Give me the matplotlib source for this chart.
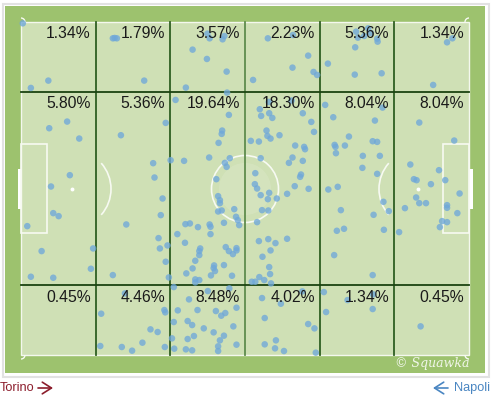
import numpy as np
import matplotlib.pyplot as plt
from matplotlib.patches import Rectangle, Ellipse, Arc

# Zone labels (6 columns x 3 rows), left to right
top_labels = ['1.34%', '1.79%', '3.57%', '2.23%', '5.36%', '1.34%']
mid_labels = ['5.80%', '5.36%', '19.64%', '18.30%', '8.04%', '8.04%']
bot_labels = ['0.45%', '4.46%', '8.48%', '4.02%', '1.34%', '0.45%']

# Event locations, pitch coordinates 0-100 (x: left->right, y: top->bottom)
top_x = [0.4, 2.2, 6.1,
         20.5, 21.4, 20.9, 27.5,
         41.6, 42.1, 45.0, 45.4, 38.3, 41.5, 45.9, 36.8,
         55.1, 60.7, 64.1, 60.6, 65.3, 66.1, 51.8,
         74.8, 75.2, 77.5, 79.5, 79.6, 74.6, 68.5, 74.5, 80.5, 76.6, 78.1,
         95.1, 96.3, 92.0]
top_y = [0.4, 19.8, 17.6,
         4.9, 4.9, 4.8, 17.6,
         3.5, 4.9, 5.2, 4.2, 8.3, 11.1, 14.9, 19.7,
         4.9, 3.9, 10.1, 13.7, 15.0, 15.9, 17.4,
         2.9, 4.7, 1.9, 5.0, 5.9, 7.6, 12.5, 15.8, 15.4, 4.2, 3.3,
         6.1, 4.9, 18.9]

mid_x = [10.3, 6.3, 13.0, 10.9, 6.7, 7.2, 8.4, 1.4, 4.6, 16.1, 15.6, 2.2, 7.2,
         32.3, 22.3, 29.5, 29.8, 33.4, 31.6, 31.2, 23.5, 30.7, 31.0, 32.7, 32.3, 33.0, 20.5,
         34.5, 46.0, 46.4, 44.9, 44.8, 44.1, 42.0, 36.4, 46.6, 45.5, 45.9, 43.6,
         44.0, 44.4, 44.4, 44.0, 44.8, 47.6, 48.0, 48.4, 48.7, 45.3, 42.1, 42.3,
         39.5, 37.7, 36.7, 34.9, 42.3, 36.6, 40.0, 39.8, 39.8, 45.7, 46.4, 47.3,
         48.1, 48.1, 38.9, 38.3, 36.9, 43.1, 43.0, 45.3, 47.1, 42.4, 43.3, 38.9,
         39.8, 38.9,
         55.3, 53.3, 53.6, 55.4, 56.1, 60.4, 62.9, 64.8, 65.4, 54.8, 55.0, 55.7,
         57.7, 51.3, 53.1, 61.2, 63.2, 63.4, 60.6, 59.8, 62.9, 53.5, 62.5, 62.3,
         61.1, 64.2, 52.3, 52.2, 52.7, 53.5, 55.4, 55.1, 57.1, 59.4, 53.8, 55.2,
         52.7, 53.1, 55.2, 56.8, 59.4, 55.7, 53.9, 55.4, 55.6, 53.2, 51.5, 52.3,
         54.3, 55.8,
         67.9, 80.7, 69.7, 79.0, 73.2, 70.0, 70.2, 72.3, 78.5, 79.5, 70.3, 76.3,
         80.1, 76.2, 79.5, 70.7, 68.6, 71.4, 78.7, 80.9, 82.1, 70.5, 72.1, 81.0,
         69.9, 78.5,
         88.9, 96.7, 86.9, 93.3, 87.7, 88.3, 91.5, 94.7, 97.9, 84.4, 85.7, 88.2,
         88.9, 90.4, 95.1, 95.1, 97.4, 94.0, 95.1, 93.5]
mid_y = [29.9, 31.9, 35.0, 46.0, 49.4, 57.4, 58.3, 61.3, 68.8, 68.0, 74.1, 76.5, 76.8,
         30.3, 34.0, 42.4, 46.7, 41.5, 53.0, 58.0, 60.8, 64.9, 68.0, 67.1, 72.0, 76.7, 76.0,
         23.4, 21.2, 27.9, 32.6, 33.6, 36.3, 40.7, 41.7, 40.9, 42.3, 43.5, 47.2,
         52.3, 53.5, 54.4, 56.9, 56.6, 56.2, 58.5, 59.5, 61.0, 60.3, 60.8, 61.5,
         61.6, 60.5, 60.7, 63.7, 63.7, 66.3, 68.0, 68.8, 70.0, 67.6, 68.8, 69.7,
         67.9, 68.6, 71.7, 74.0, 75.5, 73.1, 73.9, 73.0, 76.2, 76.1, 74.8, 77.3,
         77.5, 78.2,
         24.0, 26.2, 28.2, 27.4, 28.8, 23.6, 27.4, 30.0, 33.0, 32.6, 34.2, 35.0,
         34.0, 35.7, 35.9, 37.1, 37.5, 38.2, 40.7, 42.3, 41.7, 40.9, 45.8, 46.5,
         49.3, 50.1, 45.4, 48.7, 50.0, 52.0, 51.3, 53.2, 53.0, 51.6, 56.5, 56.6,
         60.1, 65.8, 65.2, 66.4, 65.1, 68.6, 70.5, 73.6, 75.7, 76.6, 78.0, 78.0,
         77.5, 78.5,
         24.9, 25.7, 28.6, 29.6, 34.4, 36.9, 37.5, 37.1, 35.8, 36.0, 39.4, 40.2,
         40.2, 43.8, 45.6, 49.5, 50.3, 56.5, 57.9, 54.0, 56.8, 62.7, 62.1, 62.4,
         70.0, 76.0,
         30.2, 35.6, 42.8, 44.5, 47.2, 47.5, 48.7, 47.5, 51.5, 63.1, 55.9, 52.7,
         54.4, 54.4, 55.0, 55.8, 57.4, 59.8, 60.1, 61.6]

bot_x = [23.2, 17.9, 32.0, 32.2, 28.9, 30.5, 27.1, 24.8, 22.5, 17.7, 32.1,
         34.1, 37.5, 41.7, 48.1, 35.0, 39.4, 43.5, 44.7, 45.6, 34.1, 37.2, 38.2,
         40.8, 43.0, 47.4, 33.7, 37.2, 38.6, 44.4, 45.3, 44.0, 44.0, 34.2, 36.8,
         38.2, 48.1, 46.5,
         53.8, 58.0, 62.8, 54.4, 64.1, 65.5, 56.9, 54.4, 56.7, 58.7, 65.8,
         67.6, 72.9, 68.1, 78.5, 78.6,
         89.2]
bot_y = [81.5, 87.6, 86.5, 87.2, 92.3, 93.1, 96.3, 98.7, 97.6, 97.3, 97.6,
         79.6, 83.3, 80.8, 85.8, 86.6, 86.5, 86.8, 88.2, 87.4, 90.1, 89.8, 91.0,
         92.0, 93.2, 91.4, 95.0, 95.2, 94.3, 95.6, 94.2, 97.4, 98.8, 98.1, 98.3,
         98.6, 96.9, 80.0,
         82.9, 84.6, 80.9, 88.9, 90.7, 92.0, 95.6, 96.8, 98.0, 98.8, 99.3,
         81.1, 83.5, 87.1, 86.2, 81.8,
         91.4]

# pixel layout of the pitch inside the 493x397 image
W, H = 493, 397
PX0, PY0, PW, PH = 21, 22, 448, 333


def cx(px):
    return (px - PX0) * 100 / PW


def cy(py):
    return (py - PY0) * 100 / PH


fig = plt.figure(figsize=(W / 100, H / 100), dpi=100)
ax = fig.add_axes([0, 0, 1, 1])
ax.set_xlim(cx(0), cx(W))
ax.set_ylim(cy(H), cy(0))
ax.axis('off')
plt.rcParams['font.family'] = ['Liberation Sans', 'DejaVu Sans']

# card frame + outer grass
ax.add_patch(Rectangle((cx(3), cy(4)), cx(489) - cx(3), cy(377) - cy(4),
                       facecolor='white', edgecolor='#e2e2e2', lw=1.5))
ax.add_patch(Rectangle((cx(5), cy(6)), cx(485) - cx(5), cy(373) - cy(6),
                       facecolor='#9dc26e', edgecolor='none'))
ax.add_patch(Rectangle((0, 0), 100, 100, facecolor='#cfe0b5',
                       edgecolor='#f4f8ee', lw=1))

lc = '#f7faf2'
# goals
gh = cy(209) - cy(169)
ax.add_patch(Rectangle((cx(17.5), cy(169)), cx(21) - cx(17.5), gh, facecolor='white', edgecolor='none'))
ax.add_patch(Rectangle((100, cy(169)), cx(472.5) - 100, gh, facecolor='white', edgecolor='none'))
# six-yard boxes
bw = cx(47) - cx(21)
bh = cy(233) - cy(144)
ax.add_patch(Rectangle((0, cy(144)), bw, bh, fill=False, edgecolor=lc, lw=1.2))
ax.add_patch(Rectangle((100 - bw, cy(144)), bw, bh, fill=False, edgecolor=lc, lw=1.2))
# penalty spots and D arcs
rx, ry = 39 * 100 / PW, 39 * 100 / PH
ax.plot([cx(72), cx(418)], [cy(189), cy(189)], 'o', color='white', ms=1.8, zorder=3)
ax.add_patch(Arc((cx(72), cy(189)), 2 * rx, 2 * ry, theta1=-50, theta2=50, color=lc, lw=1.2))
ax.add_patch(Arc((cx(418), cy(189)), 2 * rx, 2 * ry, theta1=130, theta2=230, color=lc, lw=1.2))
# centre circle with faint logo
ax.add_patch(Ellipse((50, cy(189)), 2 * 33.5 * 100 / PW, 2 * 33.5 * 100 / PH,
                     fill=False, edgecolor=lc, lw=1.2))
ax.add_patch(Ellipse((50, cy(189)), 2 * 26 * 100 / PW, 2 * 26 * 100 / PH,
                     facecolor='white', alpha=0.12, edgecolor='none'))
# corner arcs
for (x0, y0, t1) in [(0, 0, 270), (100, 0, 180), (0, 100, 0), (100, 100, 90)]:
    ax.add_patch(Arc((x0, y0), 2 * 4 * 100 / PW, 2 * 4 * 100 / PH, theta1=t1, theta2=t1 + 90,
                     color=lc, lw=1))

# zone grid
cols = np.linspace(0, 100, 7)
r1, r2 = cy(92), cy(285)
for i, xv in enumerate(cols[1:-1]):
    ax.plot([xv, xv], [0, 100], color='#5f8c4d' if i == 2 else '#2f5f22', lw=1.3, zorder=2)
for yv in (r1, r2):
    ax.plot([0, 100], [yv, yv], color='#1b4311', lw=1.3, zorder=2)

# events
xs = top_x + mid_x + bot_x
ys = top_y + mid_y + bot_y
ax.scatter(xs, ys, s=22, color='#6fa8d9', alpha=0.78, edgecolors='none', zorder=4)

# zone percentages
pad_x = 5 * 100 / PW
pad_y = 4.5 * 100 / PH
for labels, row_top in [(top_labels, 0), (mid_labels, r1), (bot_labels, r2)]:
    for j, lab in enumerate(labels):
        ax.text(cols[j + 1] - pad_x, row_top + pad_y, lab, ha='right', va='top',
                fontsize=11.3, color='#1a1a1a', zorder=5)

# watermark
ax.text(cx(469), cy(364), '\u00a9 Squawka', ha='right', va='center', fontsize=9,
        color='white', alpha=0.85, style='italic', family='DejaVu Serif', zorder=5)

# team directions
arrow = dict(arrowstyle='->,head_length=0.55,head_width=0.35', lw=1.2, mutation_scale=12,
             shrinkA=0, shrinkB=0)
ax.text(cx(0), cy(388), 'Torino', ha='left', va='center', fontsize=9.2, color='#8c1d2c')
ax.annotate('', xy=(cx(53), cy(388)), xytext=(cx(38), cy(388)),
            arrowprops=dict(arrow, color='#8c1d2c'))
ax.text(cx(490), cy(388), 'Napoli', ha='right', va='center', fontsize=9.2, color='#4a86c2')
ax.annotate('', xy=(cx(433), cy(388)), xytext=(cx(448), cy(388)),
            arrowprops=dict(arrow, color='#4a86c2'))

fig.savefig('out.png', dpi=100)
